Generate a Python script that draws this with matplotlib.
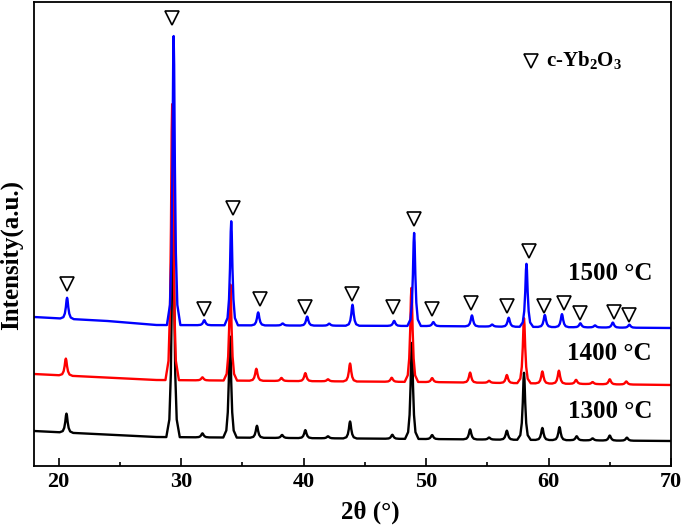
import numpy as np
import matplotlib
matplotlib.use('Agg')
import matplotlib.pyplot as plt
from matplotlib import rcParams

rcParams['font.family'] = ['Liberation Serif', 'DejaVu Serif']
rcParams['font.weight'] = 'bold'
rcParams['mathtext.fontset'] = 'custom'
rcParams['mathtext.rm'] = 'Liberation Serif:bold'
rcParams['mathtext.it'] = 'Liberation Serif:bold'

# Background knots (2theta, intensity) for each sample
bg_1300 = [(18, 35), (28, 29), (50, 27), (70, 25)]
bg_1400 = [(18, 92), (28, 86), (50, 84), (70, 81)]
bg_1500 = [(18, 149), (24, 145), (28, 141), (50, 140), (70, 138)]

# Peak positions (2theta) and heights above background
pk_1300 = [20.65, 29.35, 31.75, 34.0, 36.2, 38.25, 40.15, 42.0, 43.8, 47.25, 48.84, 50.5,
           53.6, 55.15, 56.6, 58.0, 59.5, 60.9, 62.3, 63.6, 65.0, 66.4]
h_1300 = [19, 252, 4, 101, 12, 3, 8, 2, 17, 4, 96, 4, 10, 2, 9, 67, 12, 13, 4, 2, 5, 3]

pk_1400 = [20.6, 29.28, 31.75, 34.03, 36.15, 38.2, 40.15, 42.0, 43.8, 47.2, 48.81, 50.5,
           53.6, 55.15, 56.6, 58.0, 59.5, 60.85, 62.25, 63.6, 65.0, 66.35]
h_1400 = [17, 276, 3, 96, 12, 3, 8, 2, 18, 4, 94, 4, 10, 2, 8, 65, 12, 13, 4, 2, 5, 3]

pk_1500 = [20.7, 29.4, 31.9, 34.1, 36.3, 38.3, 40.3, 42.1, 44.0, 47.4, 49.03, 50.6,
           53.75, 55.4, 56.75, 58.2, 59.7, 61.1, 62.6, 63.8, 65.25, 66.6]
h_1500 = [21, 289, 5, 104, 13, 2, 9, 2, 21, 5, 93, 4, 11, 2, 9, 63, 12, 13, 4, 2, 5, 3]

# c-Yb2O3 markers (2theta, intensity)
mk_x = [20.71, 29.28, 31.89, 34.27, 36.41, 40.16, 43.95, 47.34, 49.0, 50.51, 53.65, 56.62,
        58.37, 59.62, 61.23, 62.55, 65.33, 66.61]
mk_y = [182, 448, 157, 258, 167, 159, 172, 159, 247, 157, 163, 160, 215, 160, 163, 153, 154, 151]

labels = ['1300 °C', '1400 °C', '1500 °C']
lab_y = [55, 112, 192]
colors = ['black', '#ff0000', '#0000ff']

# peak profile vertices (offset in 2theta, fraction of height)
off = [-0.55, -0.3, -0.18, -0.1, -0.04, 0.0, 0.04, 0.1, 0.18, 0.3, 0.55]
frac = [0.0, 0.07, 0.25, 0.55, 0.9, 1.0, 0.9, 0.55, 0.25, 0.07, 0.0]


def pattern(bg, pk, h):
    bx = [b[0] for b in bg]
    by = [b[1] for b in bg]
    xs = list(bx)
    ys = list(by)
    for p, hh in zip(pk, h):
        for o, f in zip(off, frac):
            xx = p + o
            xs.append(xx)
            ys.append(np.interp(xx, bx, by) + f * hh)
    idx = np.argsort(xs)
    return np.array(xs)[idx], np.array(ys)[idx]


fig = plt.figure(figsize=(6.85, 5.25), dpi=100)
ax = fig.add_axes([34 / 685, 1 - 466 / 525, 637 / 685, 464 / 525])

for bg, pk, h, c in zip([bg_1300, bg_1400, bg_1500], [pk_1300, pk_1400, pk_1500],
                        [h_1300, h_1400, h_1500], colors):
    x, y = pattern(bg, pk, h)
    ax.plot(x, y, color=c, lw=1.7)

ax.plot(mk_x, mk_y, 'v', ms=10.5, mfc='white', mec='black', mew=1.2, ls='none')

for t, yy in zip(labels, lab_y):
    ax.text(65.0, yy, t, ha='center', va='center', fontsize=18, fontweight='bold')

# legend
ax.plot([58.56], [405], 'v', ms=10.5, mfc='white', mec='black', mew=1.2)
ax.text(59.8, 406, 'c-Yb$_2$O$_3$', ha='left', va='center', fontsize=15, fontweight='bold')

ax.set_xlim(18, 70)
ax.set_ylim(0, 464)
ax.set_xticks([20, 30, 40, 50, 60, 70])
ax.set_xticks([25, 35, 45, 55, 65], minor=True)
ax.set_yticks([])
ax.tick_params(axis='x', which='major', direction='in', length=6, width=1.2,
               labelsize=16, pad=4)
ax.tick_params(axis='x', which='minor', direction='in', length=3, width=1.2)
for lbl in ax.get_xticklabels():
    lbl.set_fontweight('bold')
for s in ax.spines.values():
    s.set_linewidth(1.3)

fig.text(370 / 685, 1 - 512 / 525, '2θ (°)', ha='center', va='center', fontsize=18,
         fontweight='bold')
fig.text(11 / 685, 1 - 255 / 525, 'Intensity(a.u.)', ha='center', va='center', fontsize=18,
         fontweight='bold', rotation=90)

fig.savefig('out.png', dpi=100)
